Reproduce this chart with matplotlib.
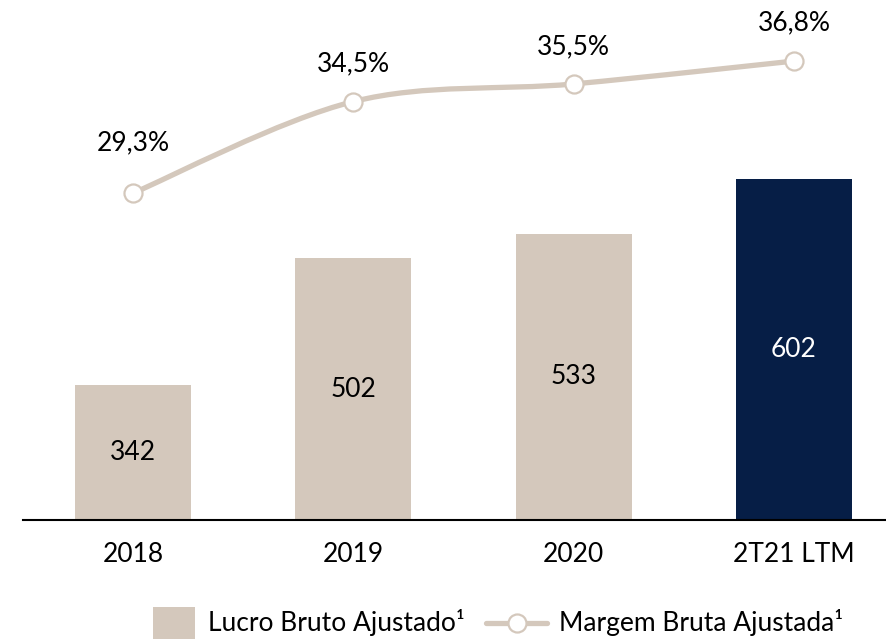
import matplotlib
matplotlib.use("Agg")
import matplotlib.pyplot as plt
from matplotlib.path import Path
from matplotlib.patches import PathPatch, Rectangle
from matplotlib.lines import Line2D
import numpy as np

plt.rcParams['font.family'] = ['Lato', 'DejaVu Sans']

categories = ["2018", "2019", "2020", "2T21 LTM"]
lucro_bruto = [342, 502, 533, 602]
margem_bruta = [29.3, 34.5, 35.5, 36.8]
bar_labels = ["342", "502", "533", "602"]
margem_labels = ["29,3%", "34,5%", "35,5%", "36,8%"]
legend_labels = ["Lucro Bruto Ajustado¹", "Margem Bruta Ajustada¹"]

BEIGE = "#D4C8BC"
NAVY = "#061E46"
FS = 19

W, H = 886, 639
fig = plt.figure(figsize=(W / 100, H / 100), dpi=100)
ax_left, ax_bottom_px, ax_top_px = 23, 520, 0
ax = fig.add_axes([ax_left / W, (H - ax_bottom_px) / H, (W - ax_left) / W, (ax_bottom_px - ax_top_px) / H])

x = np.arange(len(categories))
colors = [BEIGE, BEIGE, BEIGE, NAVY]
bars = ax.bar(x, lucro_bruto, width=0.527, color=colors, zorder=2)
ax.set_ylim(171.6, 828)
ax.set_xlim(-0.5, 3.418)

for b, lab, c in zip(bars, bar_labels, colors):
    ymid = (171.6 + b.get_height()) / 2
    ax.text(b.get_x() + b.get_width() / 2, ymid, lab, ha="center", va="center",
            fontsize=FS, color="white" if c == NAVY else "black", zorder=3)

for s in ["top", "right", "left"]:
    ax.spines[s].set_visible(False)
ax.spines["bottom"].set_linewidth(1.5)
ax.spines["bottom"].set_color("black")
ax.set_yticks([])
ax.set_xticks(x)
ax.set_xticklabels(categories, fontsize=FS)
ax.tick_params(axis="x", length=0, pad=16)

ax2 = ax.twinx()
ax2.set_ylim(10.72, 40.27)
ax2.axis("off")

# smooth curve (Catmull-Rom -> Bezier) through the data points
pts = np.column_stack([x, margem_bruta]).astype(float)
ext = np.vstack([pts[0], pts, pts[-1]])
verts = [tuple(pts[0])]
codes = [Path.MOVETO]
for i in range(len(pts) - 1):
    p0, p1, p2, p3 = ext[i], ext[i + 1], ext[i + 2], ext[i + 3]
    c1 = p1 + (p2 - p0) / 6
    c2 = p2 - (p3 - p1) / 6
    verts += [tuple(c1), tuple(c2), tuple(p2)]
    codes += [Path.CURVE4] * 3
ax2.add_patch(PathPatch(Path(verts, codes), facecolor="none", edgecolor=BEIGE,
                        lw=3.8, capstyle="round", zorder=3))
ax2.plot(x, margem_bruta, linestyle="none", marker="o", ms=13, mfc="white",
         mec=BEIGE, mew=1.6, zorder=4)

offsets = [50, 38, 37, 38]
for xi, v, lab, off in zip(x, margem_bruta, margem_labels, offsets):
    ax2.annotate(lab, (xi, v), xytext=(0, off * 0.72), textcoords="offset points",
                 ha="center", va="center", fontsize=FS, color="black")

# manual legend (pixel positions converted to figure fraction)
def fx(px):
    return px / W

def fy(py):
    return 1 - py / H

ly = 623
fig.add_artist(Rectangle((fx(153), fy(639)), (195 - 153) / W, (639 - 607) / H,
                         transform=fig.transFigure, facecolor=BEIGE, edgecolor="none"))
fig.text(fx(208), fy(ly), legend_labels[0], ha="left", va="center", fontsize=FS)
fig.add_artist(Line2D([fx(486), fx(547)], [fy(ly), fy(ly)], transform=fig.transFigure,
                      color=BEIGE, lw=3.8, solid_capstyle="round"))
fig.add_artist(Line2D([fx(517)], [fy(ly)], transform=fig.transFigure, linestyle="none",
                      marker="o", ms=13, mfc="white", mec=BEIGE, mew=1.6))
fig.text(fx(559), fy(ly), legend_labels[1], ha="left", va="center", fontsize=FS)

fig.savefig("out.png", dpi=100)
